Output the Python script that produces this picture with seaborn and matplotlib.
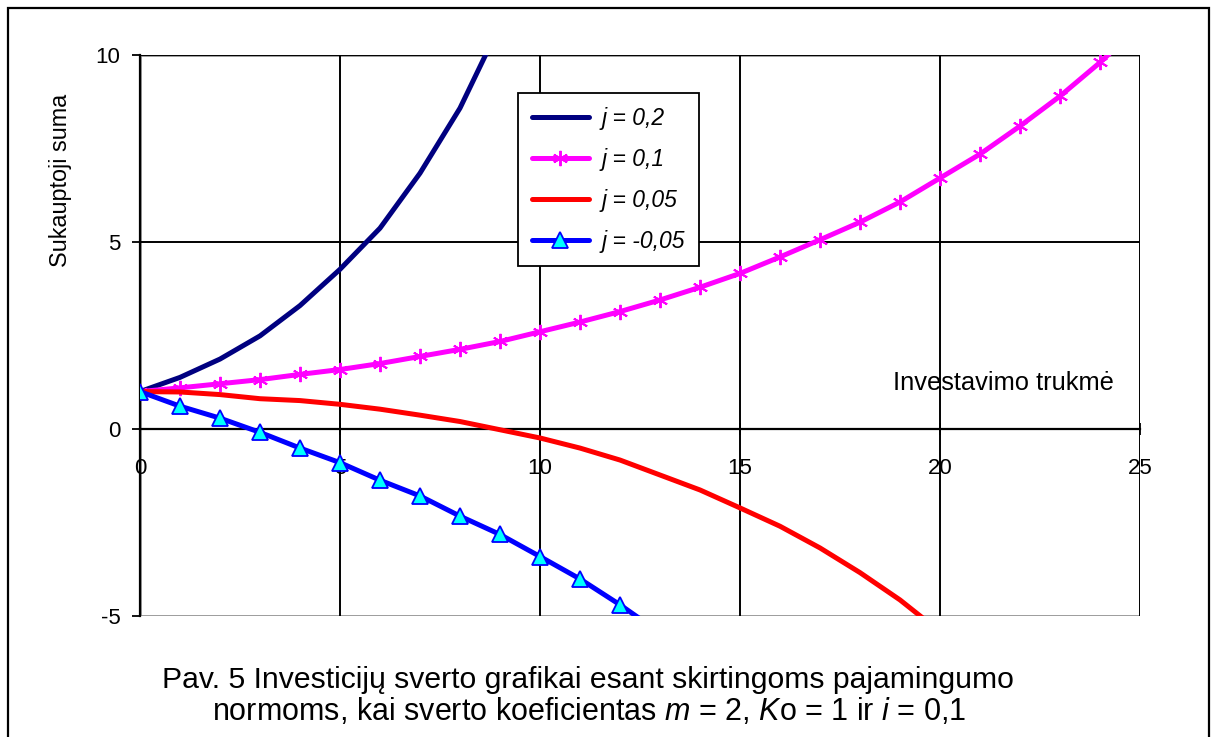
import matplotlib
matplotlib.use("Agg")
import matplotlib.pyplot as plt
from matplotlib.patches import Rectangle
import numpy as np
import pandas as pd
import seaborn as sns

# Accumulated sum per investment year for several return rates j
years = list(range(0, 26))
sum_j020 = [1.0, 1.38, 1.87, 2.49, 3.30, 4.27, 5.37, 6.84, 8.58, 10.8]
sum_j010 = [1.0, 1.10, 1.21, 1.32, 1.46, 1.59, 1.75, 1.94, 2.13, 2.34, 2.60,
            2.86, 3.14, 3.45, 3.79, 4.16, 4.60, 5.06, 5.53, 6.07, 6.71,
            7.35, 8.10, 8.90, 9.80, 10.8]
sum_j005 = [1.0, 0.99, 0.92, 0.81, 0.76, 0.66, 0.53, 0.37, 0.20, -0.02,
            -0.24, -0.51, -0.83, -1.23, -1.63, -2.11, -2.60, -3.18, -3.84,
            -4.57, -5.42]
sum_jm005 = [1.0, 0.61, 0.29, -0.09, -0.51, -0.90, -1.37, -1.79, -2.33,
             -2.82, -3.41, -4.01, -4.70, -5.45]

labels = ["j = 0,2", "j = 0,1", "j = 0,05", "j = -0,05"]
x_ticks = [0, 5, 10, 15, 20, 25]
y_ticks = [-5, 0, 5, 10]

sns.set_style("white")
plt.rcParams["font.family"] = ["Liberation Sans", "DejaVu Sans"]
plt.rcParams["mathtext.fontset"] = "custom"
plt.rcParams["mathtext.it"] = "Liberation Sans:italic"
plt.rcParams["mathtext.rm"] = "Liberation Sans"
for key in ["text.color", "axes.labelcolor", "xtick.color", "ytick.color"]:
    plt.rcParams[key] = "black"

W, H = 1216, 737
fig = plt.figure(figsize=(W / 100, H / 100), dpi=100)
ax = fig.add_axes([140 / W, 1 - 616 / H, 1000 / W, 561 / H])

# Outer frame around the whole figure
fig.patches.append(Rectangle((8 / W, -0.05), 1201 / W, 1.05 - 8 / H,
                             transform=fig.transFigure, fill=False,
                             edgecolor="black", lw=1.6, zorder=0))

ax.set_xlim(0, 25)
ax.set_ylim(-5, 10)

# Grid
for xv in x_ticks[1:]:
    ax.axvline(xv, color="black", lw=1.4, zorder=1)
for yv in y_ticks[1:]:
    ax.axhline(yv, color="black", lw=1.4, zorder=1)

lw = 3.6
sns.lineplot(x=years[:len(sum_j020)], y=sum_j020, ax=ax, color="#000080",
             lw=lw, label=labels[0], zorder=3)
sns.lineplot(x=years[:len(sum_j010)], y=sum_j010, ax=ax, color="#FF00FF",
             lw=lw, marker=(6, 2, 0), markersize=11, mew=1.4,
             mec="#FF00FF", label=labels[1], zorder=3)
sns.lineplot(x=years[:len(sum_j005)], y=sum_j005, ax=ax, color="#FF0000",
             lw=lw, label=labels[2], zorder=3)
sns.lineplot(x=years[:len(sum_jm005)], y=sum_jm005, ax=ax, color="#0000FF",
             lw=lw, marker="^", markersize=12, mfc="#00FFFF", mec="#0000FF",
             mew=1.3, label=labels[3], zorder=4)

# Axes: y axis at left, x axis through zero
for s in ["top", "right"]:
    ax.spines[s].set_visible(False)
ax.spines["left"].set_color("black")
ax.spines["left"].set_linewidth(1.6)
ax.spines["bottom"].set_position(("data", 0))
ax.spines["bottom"].set_color("black")
ax.spines["bottom"].set_linewidth(1.6)
ax.add_patch(Rectangle((0, 0), 1, 1, transform=ax.transAxes, fill=False,
                       edgecolor="#808080", lw=1.8, zorder=0.5))

ax.set_xticks(x_ticks)
ax.set_yticks(y_ticks)
ax.set_xticklabels([str(v) for v in x_ticks])
ax.set_yticklabels([str(v) for v in y_ticks])
ax.tick_params(axis="y", direction="out", length=6, width=1.3, pad=8,
               labelsize=16, left=True, colors="black")
ax.tick_params(axis="x", direction="inout", length=8, width=1.3, pad=17,
               labelsize=16, bottom=True, colors="black")
for t in ax.get_xticklabels():
    t.set_zorder(6)

ax.set_xlabel("")
ax.set_ylabel("Sukauptoji suma", fontsize=16.8, color="black")
ax.yaxis.set_label_coords(-0.068, 0.777)
ax.text(24.35, 1.22, "Investavimo trukmė", ha="right", va="center",
        fontsize=18.4, zorder=5, color="black")

leg = ax.legend(loc="upper left", bbox_to_anchor=(0.378, 0.932),
                borderaxespad=0, frameon=True, fancybox=False,
                edgecolor="black", framealpha=1, handlelength=2.5,
                borderpad=0.6, labelspacing=0.78, handletextpad=0.55,
                prop={"style": "italic", "size": 16.5})
leg.get_frame().set_linewidth(1.3)
leg.set_zorder(7)
for t in leg.get_texts():
    t.set_color("black")

fig.text(588 / W, 1 - 680 / H,
         "Pav. 5 Investicijų sverto grafikai esant skirtingoms pajamingumo",
         ha="center", va="center", fontsize=21.7, color="black")
fig.text(589 / W, 1 - 712 / H,
         r"normoms, kai sverto koeficientas $\mathit{m}$ = 2, $\mathit{K}$o = 1 ir $\mathit{i}$ = 0,1",
         ha="center", va="center", fontsize=22, color="black")

fig.savefig("out.png", dpi=100)
